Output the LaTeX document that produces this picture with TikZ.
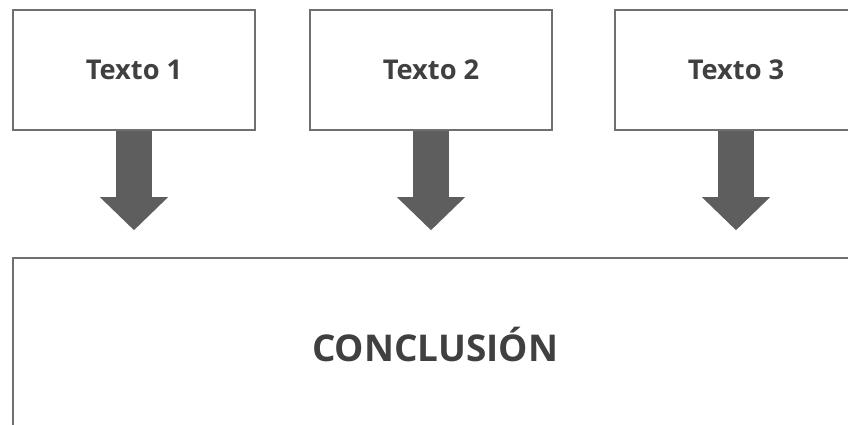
\documentclass[tikz,border=0pt]{standalone}
\usepackage{fontspec}
\setmainfont{Open Sans}
\usepackage{tikz}
\usetikzlibrary{arrows.meta, positioning}
\usepackage{xcolor}
\definecolor{framegray}{HTML}{707070}
\definecolor{arrowgray}{HTML}{5E5E5E}
\definecolor{textgray}{HTML}{404040}

\begin{document}
\begin{tikzpicture}[x=0.02cm, y=-0.02cm,
  textbox/.style={draw=framegray, line width=0.9pt, fill=white, minimum width=4.84cm, minimum height=2.4cm, text=textgray, font=\bfseries\fontsize{15.5}{18}\selectfont},
  bigbox/.style={draw=framegray, line width=0.9pt, fill=white, minimum width=16.88cm, minimum height=3.48cm, text=textgray, font=\bfseries\fontsize{21}{24}\selectfont},
  blockarrow/.style={arrowgray, line width=0.72cm, -{Triangle[width=1.32cm, length=0.66cm]}, shorten >=0.54cm}]
\useasboundingbox (0,0) rectangle (848,425);
\clip (0,0) rectangle (848,425);
\fill[white] (0,0) rectangle (848,425);
\node[textbox] (texto1) at (134,70) {Texto 1};
\node[textbox] (texto2) at (431,70) {Texto 2};
\node[textbox] (texto3) at (736,70) {Texto 3};
\node[bigbox] (concl) at (435,345) {CONCLUSIÓN};
\draw[blockarrow] (texto1.south) -- (texto1.south |- concl.north);
\draw[blockarrow] (texto2.south) -- (texto2.south |- concl.north);
\draw[blockarrow] (texto3.south) -- (texto3.south |- concl.north);
\end{tikzpicture}
\end{document}
